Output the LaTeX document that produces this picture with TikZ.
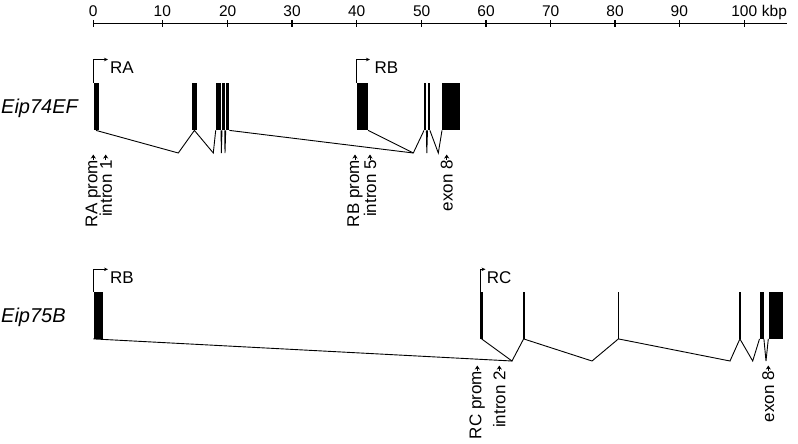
\documentclass[tikz,border=0pt]{standalone}
\usepackage{fontspec}
\setmainfont{Liberation Sans}
\usetikzlibrary{arrows.meta}

\begin{document}
\begin{tikzpicture}[x=1pt,y=-1pt,
      exonbox/.style={fill=black,inner sep=0pt,minimum height=47pt,anchor=north west},
      intronln/.style={line width=0.9pt,line join=miter},
      promarr/.style={-{Stealth[length=4pt,width=3.5pt]},line width=0.9pt},
      txt/.style={font=\fontsize{17pt}{19pt}\selectfont,inner sep=0pt},
      sitelbl/.style={txt,rotate=90,anchor=east},
      sitearr/.style={-{Stealth[length=4pt,width=5pt,inset=1.2pt]},line width=0.8pt},
      genename/.style={font=\fontsize{20pt}{22pt}\selectfont\itshape,inner sep=0pt,anchor=base west}]
      \useasboundingbox (0,0) rectangle (798,444);
      % scale bar
      \coordinate (ax0) at (93.3,23.3); \coordinate (ax1) at (787,23.3);
      \draw[line width=1.1pt] (ax0) -- (ax1);
      \foreach \k/\x in {0/93.3,10/162.3,20/227.7,30/292,40/356.7,50/421.7,60/486,70/550.7,80/615,90/679.3,100/744.3} {
        \draw[line width=1.1pt] (\x,19.8) -- (\x,27.3);
        \node[txt,font=\fontsize{15.5pt}{17pt}\selectfont,anchor=base] (n\k) at (\x,16.7) {\k};
      }
      \node[txt,font=\fontsize{15.5pt}{17pt}\selectfont,anchor=base west] (kbp) at (761.7,16.7) {kbp};
      % Eip74EF
      \node[genename] (g74) at (1,113.5) {Eip74EF};
      \node[exonbox,minimum width=5pt] (a1) at (93.3,83) {};
      \node[exonbox,minimum width=5pt] (a2) at (191.7,83) {};
      \node[exonbox,minimum width=5pt] (a3) at (215.7,83) {};
      \node[exonbox,minimum width=2.3pt] (a4) at (222,83) {};
      \node[exonbox,minimum width=3.3pt] (a5) at (225.7,83) {};
      \node[exonbox,minimum width=11pt] (a6) at (356.7,83) {};
      \node[exonbox,minimum width=2pt] (a7) at (424,83) {};
      \node[exonbox,minimum width=2pt] (a8) at (427.5,83) {};
      \node[exonbox,minimum width=17.3pt] (a9) at (442,83) {};
      \coordinate (v1) at (178.3,153); \coordinate (v2) at (213.3,153);
      \coordinate (v3) at (221.3,153); \coordinate (v4) at (225,153);
      \coordinate (v5) at (413.3,153); \coordinate (v6) at (426.8,153);
      \coordinate (v7) at (438.3,153);
      \draw[intronln] (a1.south) -- (v1) -- (a2.south) -- (v2) -- (a3.south west);
      \draw[intronln] (a3.south east) -- (v3) -- (a4.south west);
      \draw[intronln] (a4.south east) -- (v4) -- (a5.south west);
      \draw[intronln] (a5.south east) -- (v5) -- (a7.south west);
      \draw[intronln] (a6.south east) -- (v5);
      \draw[intronln] (a7.south east) -- (v6) -- (a8.south west);
      \draw[intronln] (a8.south east) -- (v7) -- (a9.south west);
      \draw[promarr] (a1.north west) -- ++(0,-23.5) -- ++(14.7,0);
      \node[txt,anchor=base west] (ra) at (110,74) {RA};
      \draw[promarr] (a6.north west) -- ++(0,-23.5) -- ++(13.3,0);
      \node[txt,anchor=base west] (rb1) at (374.3,73.5) {RB};
      \node[sitelbl] (s1) at (93.3,160) {RA prom};
      \node[sitelbl] (s2) at (105.7,160) {intron 1};
      \node[sitelbl] (s3) at (355,160) {RB prom};
      \node[sitelbl] (s4) at (370,160) {intron 5};
      \node[sitelbl] (s5) at (446.7,160) {exon 8};
      \foreach \s in {s1,s2,s3,s4,s5} \draw[sitearr] (\s.east) -- ++(0,-5.5);
      % Eip75B
      \node[genename] (g75) at (1,322.5) {Eip75B};
      \node[exonbox,minimum width=9pt] (b1) at (93.3,291.5) {};
      \node[exonbox,minimum width=2.8pt] (b2) at (480,291.5) {};
      \node[exonbox,minimum width=1.8pt] (b3) at (522.5,291.5) {};
      \node[exonbox,minimum width=1.8pt] (b4) at (617.3,291.5) {};
      \node[exonbox,minimum width=1.8pt] (b5) at (738.8,291.5) {};
      \node[exonbox,minimum width=4pt] (b6) at (759.5,291.5) {};
      \node[exonbox,minimum width=14.4pt] (b7) at (768.3,291.5) {};
      \coordinate (w1) at (512,361); \coordinate (w2) at (592,361);
      \coordinate (w3) at (730,361); \coordinate (w4) at (752.7,361);
      \coordinate (w5) at (766,361);
      \draw[intronln] (b1.south west) -- (w1);
      \draw[intronln] (b2.south) -- (w1) -- (b3.south) -- (w2) -- (b4.south) -- (w3) -- (b5.south) -- (w4) -- (b6.south west);
      \draw[intronln] (b6.south east) -- (w5) -- (b7.south west);
      \draw[promarr] (b1.north west) -- ++(0,-22.2) -- ++(14.7,0);
      \node[txt,anchor=base west] (rb2) at (110,283) {RB};
      \draw[promarr] (b2.north west) -- ++(0,-22.2) -- ++(5.5,0);
      \node[txt,anchor=base west] (rc) at (486.7,283) {RC};
      \node[sitelbl] (t1) at (477.3,371) {RC prom};
      \node[sitelbl] (t2) at (499.3,371) {intron 2};
      \node[sitelbl] (t3) at (768.3,371) {exon 8};
      \foreach \s in {t1,t2,t3} \draw[sitearr] (\s.east) -- ++(0,-5.5);
    \end{tikzpicture}
\end{document}
